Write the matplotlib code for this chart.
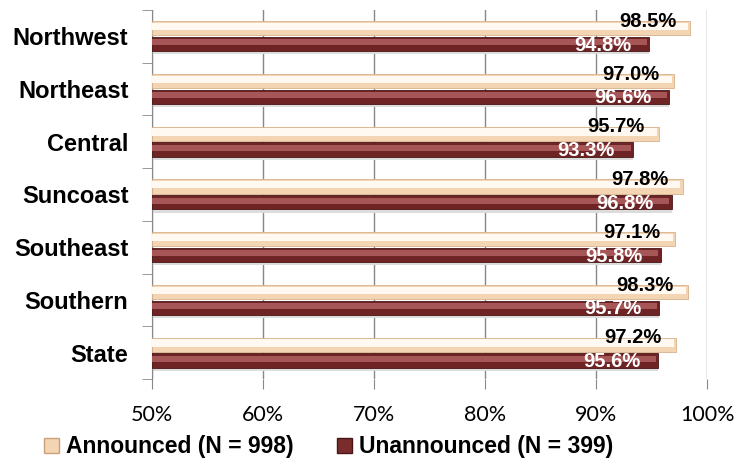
import numpy as np
import matplotlib.pyplot as plt

regions = ['Northwest', 'Northeast', 'Central', 'Suncoast', 'Southeast', 'Southern', 'State']
announced = [98.5, 97.0, 95.7, 97.8, 97.1, 98.3, 97.2]
unannounced = [94.8, 96.6, 93.3, 96.8, 95.8, 95.7, 95.6]
xticks = [50, 60, 70, 80, 90, 100]

plt.rcParams['font.family'] = ['Lato', 'DejaVu Sans']

fig = plt.figure(figsize=(7.42, 4.68), dpi=100)
ax = fig.add_axes([0.205, 0.190, 0.748, 0.789])

y = np.arange(len(regions))
h = 0.27
off = 0.15
base = 50
ann = np.array(announced)
una = np.array(unannounced)

# soft shadow under bars
ax.barh(y + off + 0.06, una - base, left=base, height=h, color='#DCDCDC', linewidth=0, zorder=2)

# announced bars (light, on top) with a highlight strip
ax.barh(y - off, ann - base, left=base, height=h,
        color='#F3D5B3', edgecolor='#D8B28A', linewidth=0.6, zorder=3)
ax.barh(y - off - 0.035, ann - base - 0.2, left=base, height=h * 0.5,
        color='#FFF9F1', linewidth=0, zorder=4)
# unannounced bars (dark)
ax.barh(y + off, una - base, left=base, height=h,
        color='#6E2425', edgecolor='#4A1516', linewidth=0.6, zorder=3)
ax.barh(y + off - 0.035, una - base - 0.2, left=base, height=h * 0.42,
        color='#A65657', linewidth=0, zorder=4)

bold_font = 'Liberation Sans'
for i in range(len(regions)):
    ax.text(ann[i] - 1.3, y[i] - off - 0.13, f'{ann[i]:.1f}%', family=bold_font,
            ha='right', va='center', fontsize=14.5, fontweight='bold', color='black', zorder=5)
    ax.text(una[i] - 1.6, y[i] + off + 0.02, f'{una[i]:.1f}%', family=bold_font,
            ha='right', va='center', fontsize=14.5, fontweight='bold', color='white', zorder=5)

ax.set_xlim(50, 100)
ax.set_ylim(len(regions) - 0.5, -0.5)
ax.set_xticks(xticks)
ax.set_xticklabels([f'{t}%' for t in xticks], fontsize=15.5)
ax.set_yticks(y)
ax.set_yticklabels(regions, fontsize=17, fontweight='bold', family=bold_font)
ax.set_yticks(np.arange(len(regions) + 1) - 0.5, minor=True)
ax.tick_params(axis='y', which='major', length=0, pad=17)
ax.tick_params(axis='y', which='minor', length=7, color='#888888')
ax.tick_params(axis='x', length=7, color='#888888', pad=12)

ax.grid(axis='x', color='#888888', linewidth=1, zorder=0)
for s in ['top', 'right', 'bottom']:
    ax.spines[s].set_visible(False)
ax.spines['left'].set_color('#888888')

leg_handles = [plt.Rectangle((0, 0), 1, 1, facecolor='#F3D5B3', edgecolor='#C9A27A'),
               plt.Rectangle((0, 0), 1, 1, facecolor='#7A2C2D', edgecolor='#4A1516')]
fig.legend(leg_handles, ['Announced (N = 998)', 'Unannounced (N = 399)'],
           loc='center', bbox_to_anchor=(0.443, 0.045), ncol=2, frameon=False,
           prop={'family': bold_font, 'weight': 'bold', 'size': 16.5},
           handlelength=0.65, handleheight=0.65, handletextpad=0.3, columnspacing=1.9,
           borderaxespad=0, borderpad=0)

fig.savefig('out.png', dpi=100)
